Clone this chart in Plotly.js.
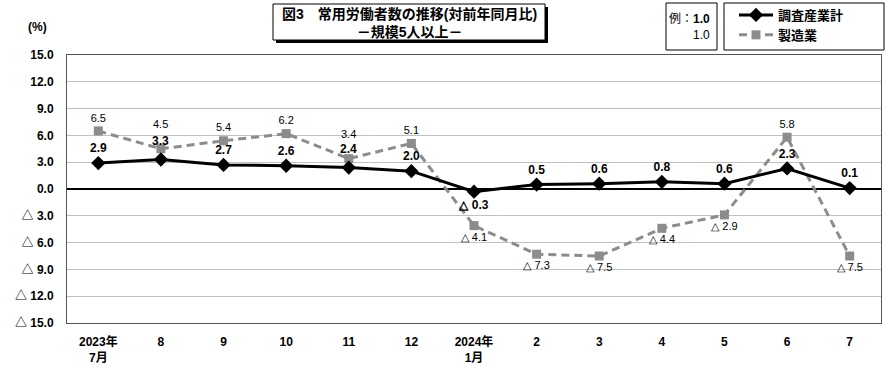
<!DOCTYPE html>
<html>
<head>
<meta charset="utf-8">
<script src="https://cdn.plot.ly/plotly-3.0.1.min.js"></script>
<style>html,body{margin:0;padding:0;background:#fff;}#chart{width:890px;height:374px;}</style>
</head>
<body>
<div id="chart"></div>
<script>
// ---- data ----
const categories = ['2023年<br>7月','8','9','10','11','12','2024年<br>1月','2','3','4','5','6','7'];
const seriesNames = ['調査産業計','製造業'];
const totalValues = [2.9, 3.3, 2.7, 2.6, 2.4, 2.0, -0.3, 0.5, 0.6, 0.8, 0.6, 2.3, 0.1];
const mfgValues   = [6.5, 4.5, 5.4, 6.2, 3.4, 5.1, -4.1, -7.3, -7.5, -4.4, -2.9, 5.8, -7.5];
const yTickVals   = [15, 12, 9, 6, 3, 0, -3, -6, -9, -12, -15];
const yTickText   = ['15.0','12.0','9.0','6.0','3.0','0.0','△ 3.0','△ 6.0','△ 9.0','△ 12.0','△ 15.0'];
// points whose labels are lifted further above the marker (crowded months)
const liftedIdx = [1, 4];

// ---- helpers ----
const fmt = v => v < 0 ? '△ ' + Math.abs(v).toFixed(1) : v.toFixed(1);
const L = 67, R = 881, T = 55, B = 323, W = 890, H = 374;
const px = x => (x - L) / (R - L);
const py = y => (B - y) / (B - T);
const CJK = 'Liberation Sans, Noto Sans CJK JP, sans-serif';
const NARROW = 'Liberation Sans Narrow, Liberation Sans, sans-serif';
const grayFont = {family: NARROW, size: 11, color: '#000'};
const blackFont = {family: NARROW, size: 12, color: '#000', weight: 'bold'};

const labelText = vals => vals.map((v, i) => liftedIdx.includes(i) ? '' : fmt(v));

const traces = [
  {
    x: categories, y: mfgValues, name: seriesNames[1], type: 'scatter', mode: 'lines+markers+text',
    line: {color: '#8c8c8c', width: 3, dash: '8px,5px'},
    marker: {symbol: 'square', size: 9, color: '#8c8c8c'},
    text: labelText(mfgValues),
    textposition: mfgValues.map(v => v < 0 ? 'bottom center' : 'top center'),
    textfont: grayFont,
    cliponaxis: false
  },
  {
    x: categories, y: totalValues, name: seriesNames[0], type: 'scatter', mode: 'lines+markers+text',
    line: {color: '#000', width: 3},
    marker: {symbol: 'diamond', size: 11, color: '#000'},
    text: labelText(totalValues),
    textposition: totalValues.map(v => v < 0 ? 'bottom center' : 'top center'),
    textfont: blackFont,
    cliponaxis: false
  }
];

// on a category axis, annotation x is the category index
const liftedAnn = [];
liftedIdx.forEach(i => {
  liftedAnn.push({x: i, y: mfgValues[i], xref: 'x', yref: 'y', yshift: 25, showarrow: false,
    text: fmt(mfgValues[i]), font: grayFont});
  liftedAnn.push({x: i, y: totalValues[i], xref: 'x', yref: 'y', yshift: 19, showarrow: false,
    text: fmt(totalValues[i]), font: blackFont});
});

const layout = {
  width: W, height: H,
  margin: {l: L, r: W - R, t: T, b: H - B, autoexpand: false},
  paper_bgcolor: '#fff', plot_bgcolor: '#fff',
  showlegend: true,
  legend: {
    xref: 'container', yref: 'container', x: 734 / W, y: 1, xanchor: 'left', yanchor: 'top',
    bgcolor: 'rgba(0,0,0,0)', borderwidth: 0,
    font: {family: CJK, size: 13, color: '#000', weight: 'bold'},
    traceorder: 'reversed', itemwidth: 34, tracegroupgap: 0
  },
  xaxis: {
    type: 'category', range: [-0.5, 12.5], showgrid: false, zeroline: false,
    showline: true, mirror: true, linecolor: '#555', linewidth: 1,
    ticks: '', ticklabelstandoff: 8,
    tickfont: {family: CJK, size: 12, color: '#000', weight: 'bold'}
  },
  yaxis: {
    range: [-15, 15], tickmode: 'array', tickvals: yTickVals, ticktext: yTickText,
    showgrid: true, gridcolor: '#c0c0c0', gridwidth: 1,
    zeroline: true, zerolinecolor: '#000', zerolinewidth: 2,
    showline: true, mirror: true, linecolor: '#555', linewidth: 1,
    ticks: '', ticklabelstandoff: 10,
    tickfont: {family: CJK, size: 12, color: '#000', weight: 'bold'}
  },
  shapes: [
    {type: 'rect', xref: 'paper', yref: 'paper', x0: px(276), x1: px(548), y0: py(43), y1: py(7), fillcolor: '#000', line: {width: 0}, layer: 'above'},
    {type: 'rect', xref: 'paper', yref: 'paper', x0: px(273), x1: px(545), y0: py(40), y1: py(4), fillcolor: '#fff', line: {color: '#000', width: 1}, layer: 'above'},
    {type: 'rect', xref: 'paper', yref: 'paper', x0: px(666), x1: px(717), y0: py(50), y1: py(3), fillcolor: 'rgba(0,0,0,0)', line: {color: '#000', width: 1}, layer: 'above'},
    {type: 'rect', xref: 'paper', yref: 'paper', x0: px(724), x1: px(884), y0: py(50), y1: py(3), fillcolor: 'rgba(0,0,0,0)', line: {color: '#000', width: 1}, layer: 'above'}
  ],
  annotations: [
    {xref: 'paper', yref: 'paper', x: px(409), y: py(23), xanchor: 'center', yanchor: 'middle', showarrow: false,
     text: '<b>図3　常用労働者数の推移(対前年同月比)</b><br><b>－規模5人以上－</b>', align: 'center',
     font: {family: CJK, size: 14, color: '#000'}},
    {xref: 'paper', yref: 'paper', x: px(712), y: py(27), xanchor: 'right', yanchor: 'middle', showarrow: false,
     text: '例：<b>1.0</b><br>1.0', align: 'right',
     font: {family: CJK, size: 12, color: '#000'}},
    {xref: 'paper', yref: 'paper', x: px(37), y: py(27), xanchor: 'center', yanchor: 'middle', showarrow: false,
     text: '<b>(%)</b>', font: {family: CJK, size: 12, color: '#000'}}
  ].concat(liftedAnn)
};

Plotly.newPlot('chart', traces, layout, {displayModeBar: false, staticPlot: true});
</script>
</body>
</html>
